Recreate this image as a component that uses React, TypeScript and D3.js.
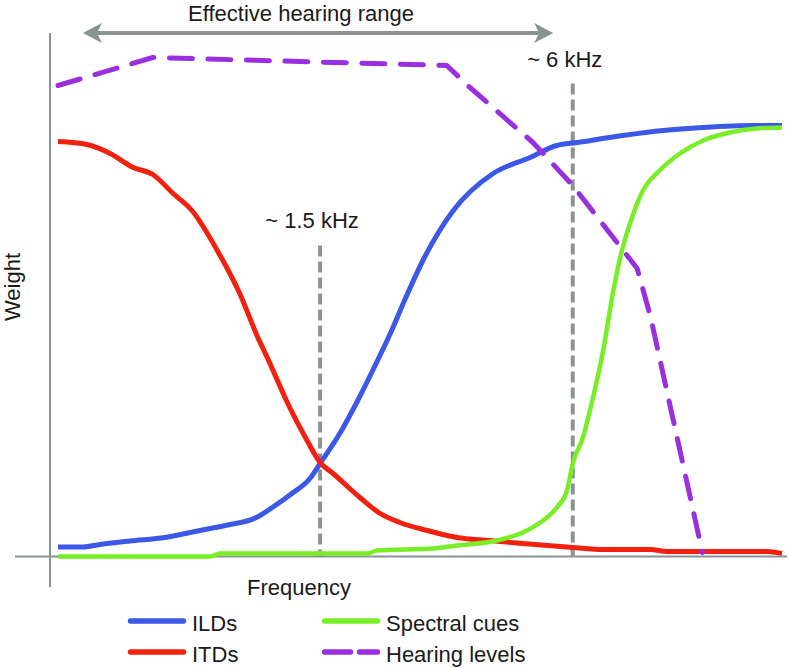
import React from "react";
import * as d3 from "d3";

// ---- Data (frequency in relative units 0..100, weight 0..1) ----
const ildX = [0, 3.45, 5.8, 9.94, 14.8, 19.6, 23.1, 27.4, 29.6, 32.3, 34.8, 36.2, 39.0, 41.4, 43.8, 45.9, 48.1, 50.4, 54.6, 60.1, 65.2, 68.9, 71.7, 78.0, 83.6, 89.1, 96.0, 100];
const ildY = [0.019, 0.019, 0.024, 0.031, 0.038, 0.052, 0.062, 0.078, 0.098, 0.126, 0.156, 0.186, 0.248, 0.312, 0.382, 0.446, 0.52, 0.592, 0.692, 0.766, 0.798, 0.822, 0.828, 0.842, 0.852, 0.858, 0.862, 0.862];

const itdX = [0, 4.0, 7.2, 10.4, 13.1, 15.9, 18.5, 22.0, 25.1, 27.6, 28.9, 32.0, 34.4, 36.2, 38.0, 41.7, 44.5, 47.2, 51.0, 55.1, 59.7, 64.2, 71.1, 75.3, 81.8, 84.1, 97.9, 100];
const itdY = [0.83, 0.824, 0.806, 0.778, 0.764, 0.726, 0.692, 0.612, 0.526, 0.438, 0.398, 0.298, 0.232, 0.188, 0.166, 0.118, 0.086, 0.068, 0.052, 0.038, 0.032, 0.026, 0.018, 0.014, 0.014, 0.01, 0.01, 0.006];

const spectralX = [0, 21.0, 22.4, 42.7, 44.1, 51.8, 55.1, 60.6, 64.2, 66.6, 68.9, 70.3, 71.1, 72.5, 73.9, 75.3, 76.7, 78.0, 79.0, 80.8, 83.1, 85.9, 89.1, 92.8, 96.5, 100];
const spectralY = [0, 0, 0.006, 0.006, 0.012, 0.016, 0.022, 0.032, 0.048, 0.068, 0.098, 0.132, 0.186, 0.238, 0.318, 0.412, 0.532, 0.618, 0.666, 0.732, 0.772, 0.806, 0.832, 0.848, 0.856, 0.858];

const hearingX = [0, 13.1, 53.7, 56.9, 65.6, 71.1, 80.0, 81.8, 89.0];
const hearingY = [0.942, 0.998, 0.982, 0.938, 0.828, 0.742, 0.576, 0.482, 0.008];

const markerX = [36.2, 71.1];
const markerTop = [0.622, 0.946];
const markerLabels = ["~ 1.5 kHz", "~ 6 kHz"];

const rangeX = [3.45, 68.4];
const rangeLabel = "Effective hearing range";
const xLabel = "Frequency";
const yLabel = "Weight";

const seriesNames = ["ILDs", "ITDs", "Spectral cues", "Hearing levels"];
const seriesColors = ["#3c58e6", "#f2200e", "#78ee26", "#9a2fe0"];

const W = 789;
const H = 668;
const FONT = "'Liberation Sans', Arial, Helvetica, sans-serif";
const GRAY = "#8b9292";
const TEXT = "#1a1a1a";

export default function App() {
  const x = d3.scaleLinear().domain([0, 100]).range([58, 782]);
  const y = d3.scaleLinear().domain([0, 1]).range([556.5, 56.5]);

  const mk = (xs: number[], ys: number[]) => xs.map((v, i) => [v, ys[i]] as [number, number]);
  const smooth = d3
    .line<[number, number]>()
    .x((d) => x(d[0]))
    .y((d) => y(d[1]))
    .curve(d3.curveMonotoneX);
  const straight = d3
    .line<[number, number]>()
    .x((d) => x(d[0]))
    .y((d) => y(d[1]));

  const series = [
    { pts: mk(ildX, ildY), gen: smooth, dash: undefined as string | undefined, w: 5 },
    { pts: mk(itdX, itdY), gen: smooth, dash: undefined, w: 5 },
    { pts: mk(spectralX, spectralY), gen: smooth, dash: undefined, w: 4.5 },
    { pts: mk(hearingX, hearingY), gen: straight, dash: "23 15.5", w: 5 },
  ];

  const arrowY = 33;
  const ax0 = x(rangeX[0]);
  const ax1 = x(rangeX[1]);
  const headL = 19;
  const headW = 10;
  const head = (tip: number, dir: number) =>
    `M${tip},${arrowY} L${tip + dir * headL},${arrowY - headW} L${tip + dir * (headL - 5)},${arrowY} L${tip + dir * headL},${arrowY + headW} Z`;

  const legendItems = [
    { x: 128, y: 621 },
    { x: 128, y: 652 },
    { x: 322, y: 621 },
    { x: 322, y: 652 },
  ];

  return (
    <div style={{ position: "absolute", left: 0, top: 0 }}>
      <svg width={W} height={H} style={{ display: "block", background: "#fff" }} fontFamily={FONT}>
        {/* axes */}
        <line x1={50} x2={50} y1={33} y2={587} stroke={GRAY} strokeWidth={2} />
        <line x1={15} x2={787} y1={y(0)} y2={y(0)} stroke={GRAY} strokeWidth={2} />

        {/* effective range arrow */}
        <line x1={ax0 + 10} x2={ax1 - 10} y1={arrowY} y2={arrowY} stroke={GRAY} strokeWidth={4} />
        <path d={head(ax0, 1)} fill={GRAY} />
        <path d={head(ax1, -1)} fill={GRAY} />
        <text x={301} y={21} fontSize={22} fill={TEXT} textAnchor="middle">
          {rangeLabel}
        </text>

        {/* frequency markers */}
        {markerX.map((m, i) => (
          <g key={i}>
            <line
              x1={x(m)}
              x2={x(m)}
              y1={y(markerTop[i])}
              y2={y(0)}
              stroke={GRAY}
              strokeWidth={4}
              strokeDasharray="11 5"
            />
          </g>
        ))}

        {/* series */}
        {series.map((s, i) => (
          <path
            key={i}
            d={s.gen(s.pts) || ""}
            fill="none"
            stroke={seriesColors[i]}
            strokeWidth={s.w}
            strokeDasharray={s.dash}
            strokeLinecap={s.dash ? "round" : "butt"}
            strokeLinejoin="round"
          />
        ))}

        {/* marker labels */}
        {markerX.map((m, i) => (
          <text
            key={i}
            x={x(m) - 8}
            y={i === 0 ? 228 : 67}
            fontSize={22}
            fill={TEXT}
            textAnchor="middle"
          >
            {markerLabels[i]}
          </text>
        ))}

        {/* axis labels */}
        <text x={299} y={595} fontSize={22} fill={TEXT} textAnchor="middle">
          {xLabel}
        </text>
        <text
          transform={`translate(20,287) rotate(-90)`}
          fontSize={22}
          fill={TEXT}
          textAnchor="middle"
        >
          {yLabel}
        </text>

        {/* legend */}
        {legendItems.map((p, i) => (
          <g key={i}>
            <line
              x1={p.x + 2.5}
              x2={p.x + 55.5}
              y1={p.y}
              y2={p.y}
              stroke={seriesColors[i]}
              strokeWidth={5.5}
              strokeLinecap="round"
              strokeDasharray={i === 3 ? "26 9" : undefined}
            />
            <text x={p.x + 64} y={p.y + 10} fontSize={22} fill={TEXT}>
              {seriesNames[i]}
            </text>
          </g>
        ))}
      </svg>
    </div>
  );
}
